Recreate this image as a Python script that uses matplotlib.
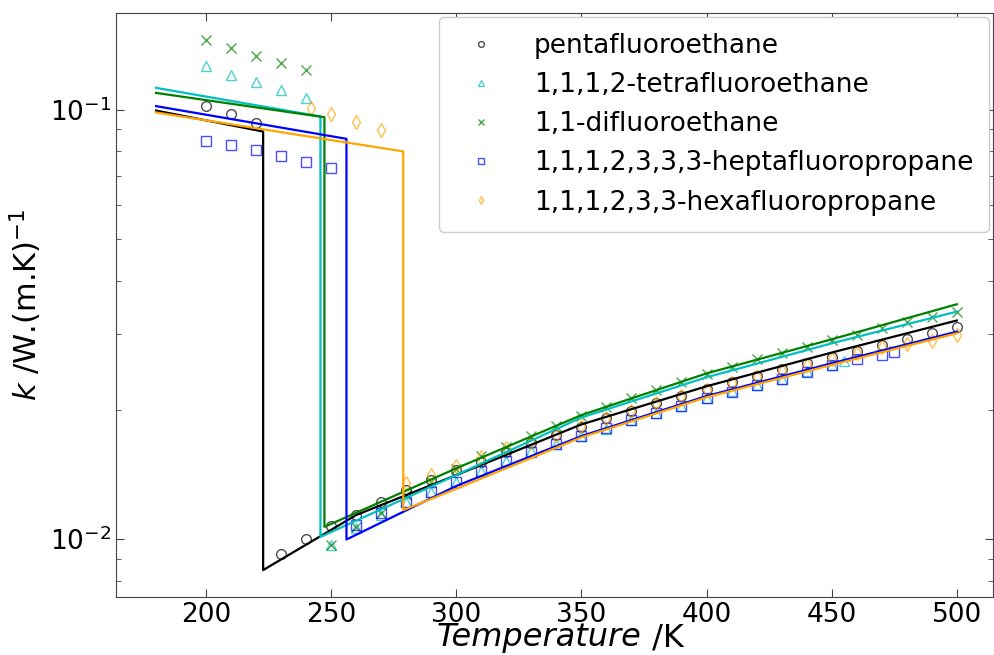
import matplotlib
matplotlib.use("Agg")
import matplotlib.pyplot as plt
from matplotlib.ticker import LogLocator, NullFormatter

# ---------------- data ----------------
labels = ["pentafluoroethane", "1,1,1,2-tetrafluoroethane", "1,1-difluoroethane",
          "1,1,1,2,3,3,3-heptafluoropropane", "1,1,1,2,3,3-hexafluoropropane"]

# experimental points
t_r125 = [200, 210, 220, 230, 240, 250, 260, 270, 280, 290, 300, 310, 320, 330, 340,
          350, 360, 370, 380, 390, 400, 410, 420, 430, 440, 450, 460, 470, 480, 490, 500]
k_r125 = [0.1022, 0.0979, 0.0931, 0.00923, 0.00998, 0.01072, 0.01138, 0.01222, 0.0130,
          0.01375, 0.01448, 0.01514, 0.01597, 0.01677, 0.01748, 0.01827, 0.0191, 0.01991,
          0.02071, 0.02154, 0.02234, 0.02326, 0.02402, 0.0249, 0.02576, 0.0266, 0.0274,
          0.02835, 0.02926, 0.03016, 0.03115]

t_r134a = [200, 210, 220, 230, 240, 250, 260, 270, 280, 290, 300, 310, 320, 330, 340,
           350, 360, 370, 380, 390, 400, 410, 420, 430, 440, 450, 455]
k_r134a = [0.1262, 0.1207, 0.1161, 0.1114, 0.1065, 0.0097, 0.0106, 0.0114, 0.01222,
           0.01289, 0.0136, 0.01443, 0.01522, 0.0160, 0.0167, 0.0174, 0.0181, 0.0189,
           0.0197, 0.0204, 0.0213, 0.0221, 0.0229, 0.0236, 0.0246, 0.0254, 0.0260]

t_r152a = [200, 210, 220, 230, 240, 250, 260, 270, 280, 290, 300, 310, 320, 330, 340,
           350, 360, 370, 380, 390, 400, 410, 420, 430, 440, 450, 460, 470, 480, 490, 500]
k_r152a = [0.1456, 0.1395, 0.1337, 0.1288, 0.124, 0.00968, 0.01068, 0.01148, 0.0127,
           0.01355, 0.0146, 0.01561, 0.01641, 0.01738, 0.01834, 0.01935, 0.02034, 0.02128,
           0.02225, 0.02326, 0.0242, 0.02513, 0.02623, 0.02718, 0.02808, 0.0291, 0.02988,
           0.03098, 0.032, 0.03298, 0.03388]

t_r227ea = [200, 210, 220, 230, 240, 250, 260, 270, 280, 290, 300, 310, 320, 330, 340,
            350, 360, 370, 380, 390, 400, 410, 420, 430, 440, 450, 460, 470, 475]
k_r227ea = [0.0848, 0.0829, 0.0804, 0.0781, 0.0756, 0.0731, 0.01078, 0.01148, 0.01222,
            0.01289, 0.0136, 0.01443, 0.01522, 0.01597, 0.0167, 0.01738, 0.01811, 0.01894,
            0.0197, 0.02042, 0.02128, 0.02205, 0.02286, 0.0236, 0.02455, 0.02544, 0.02624,
            0.02685, 0.02724]

t_r236ea = [242, 250, 260, 270, 280, 290, 300, 310, 320, 330, 340, 350, 360, 370, 380,
            390, 400, 410, 420, 430, 440, 450, 460, 470, 480, 490, 500]
k_r236ea = [0.1012, 0.0980, 0.0937, 0.0898, 0.01348, 0.0141, 0.0148, 0.01556, 0.01627,
            0.0168, 0.0175, 0.0183, 0.0191, 0.0199, 0.0207, 0.0215, 0.0223, 0.0231, 0.0239,
            0.0247, 0.0255, 0.0263, 0.0271, 0.0280, 0.0285, 0.0290, 0.0299]

# model curves (liquid branch, jump at saturation, vapour branch)
lt_r125 = [180, 222.8, 222.8, 260, 300, 350, 400, 450, 500]
lk_r125 = [0.0996, 0.0890, 0.00847, 0.01138, 0.0141, 0.0185, 0.0227, 0.0272, 0.0323]

lt_r134a = [180, 245.7, 245.7, 300, 350, 400, 450, 500]
lk_r134a = [0.1125, 0.0965, 0.01012, 0.0141, 0.0192, 0.02382, 0.02858, 0.03388]

lt_r152a = [180, 247.3, 247.3, 300, 350, 400, 450, 500]
lk_r152a = [0.1095, 0.0961, 0.01068, 0.01462, 0.01945, 0.02432, 0.0292, 0.03524]

lt_r227ea = [180, 256.1, 256.1, 300, 350, 400, 450, 500]
lk_r227ea = [0.1020, 0.0856, 0.00998, 0.0133, 0.01738, 0.02154, 0.02568, 0.03042]

lt_r236ea = [180, 278.8, 278.8, 300, 350, 400, 450, 500]
lk_r236ea = [0.0986, 0.0800, 0.01168, 0.0131, 0.01726, 0.0214, 0.02545, 0.03016]

xticks = [200, 250, 300, 350, 400, 450, 500]
xlabel_italic = "Temperature"
xlabel_unit = " /K"

# ---------------- plot ----------------
colors = ["black", "c", "g", "b", "orange"]
markers = ["o", "^", "x", "s", "d"]
pts = [(t_r125, k_r125), (t_r134a, k_r134a), (t_r152a, k_r152a),
       (t_r227ea, k_r227ea), (t_r236ea, k_r236ea)]
lines = [(lt_r125, lk_r125), (lt_r134a, lk_r134a), (lt_r152a, lk_r152a),
         (lt_r227ea, lk_r227ea), (lt_r236ea, lk_r236ea)]

W, H = 995, 655
fig = plt.figure(figsize=(W / 100, H / 100), dpi=100)
ax = fig.add_axes([0.1166, 0.0885, 0.8814, 0.8915])

for (t, k), c, m, lab in zip(pts, colors, markers, labels):
    if m == "x":
        ax.plot(t, k, linestyle="none", marker=m, color=c, markersize=7,
                markeredgewidth=1.0, alpha=0.7, label=lab)
    else:
        ax.plot(t, k, linestyle="none", marker=m, markerfacecolor="none",
                markeredgecolor=c, markersize=7, markeredgewidth=1.0, alpha=0.7,
                label=lab)

for (t, k), c in zip(lines, colors):
    ax.plot(t, k, color=c, linewidth=1.6)

ax.set_yscale("log")
ax.set_xlim(164, 514.5)
ax.set_ylim(0.00733, 0.168)
ax.set_xticks(xticks)
ax.yaxis.set_minor_locator(LogLocator(base=10, subs=range(2, 10), numticks=20))
ax.yaxis.set_minor_formatter(NullFormatter())

ax.tick_params(axis="both", which="both", direction="in", top=True, right=True,
               labelsize=19, color="#444444")
ax.tick_params(axis="both", which="major", length=6)
ax.tick_params(axis="both", which="minor", length=3.5)
for s in ax.spines.values():
    s.set_color("#444444")

ax.set_ylabel(r"$k$ /W.(m.K)$^{-1}$", fontsize=22)

# x label: italic word + upright unit, centred under the axes
base_y = (H - 646) / H
t1 = fig.text(0, base_y, xlabel_italic, fontsize=23, style="italic",
              ha="left", va="baseline")
t2 = fig.text(0, base_y, xlabel_unit, fontsize=23, ha="left", va="baseline")
fig.canvas.draw()
r = fig.canvas.get_renderer()
w1 = t1.get_window_extent(r).width
w2 = t2.get_window_extent(r).width
cx = (116 + 993) / 2 + 6
x0 = cx - (w1 + w2) / 2
t1.set_x(x0 / W)
t2.set_x((x0 + w1) / W)

leg = ax.legend(loc="upper right", fontsize=19, markerscale=0.6, numpoints=1,
                borderaxespad=0.15, borderpad=0.6, handletextpad=1.0,
                framealpha=1.0)

fig.savefig("out.png", dpi=100)
